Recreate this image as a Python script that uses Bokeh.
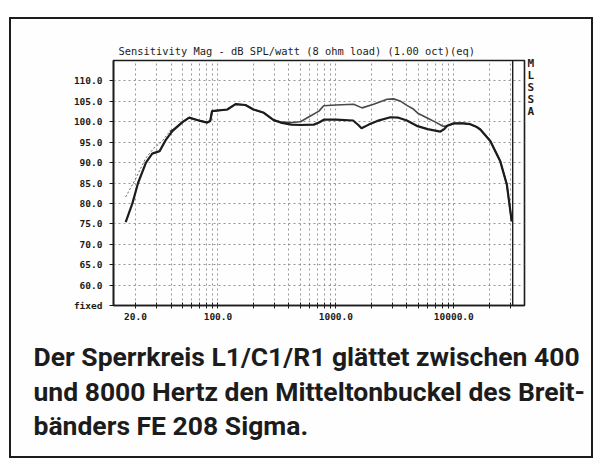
from bokeh.plotting import figure
from bokeh.models import FixedTicker, Range1d, Span, Title, LinearAxis
from bokeh.embed import file_html
from bokeh.resources import INLINE

# ---- data ----
# curve without trap circuit (mid-range hump), thin line
freq_a = [16.5, 20, 24.3, 28.5, 33, 39, 41, 50, 57, 71, 81, 86, 89, 120, 141, 171,
          200, 245, 297, 350, 420, 500, 608, 719, 788, 1000, 1416, 1668, 2090, 2720,
          3080, 3500, 4000, 4500, 5000, 5900, 7000, 8100, 8800, 10000, 12000, 13800,
          15500, 16800, 20400, 24800, 28200, 31000]
spl_a = [81.6, 86.0, 91.0, 93.5, 95.0, 97.6, 97.9, 99.9, 101.0, 100.2, 99.8, 100.2,
         102.6, 103.0, 104.3, 104.1, 103.0, 102.2, 100.4, 99.9, 99.8, 100.0, 101.4,
         102.6, 103.9, 104.1, 104.3, 103.4, 104.3, 105.5, 105.6, 105.1, 104.0, 103.2,
         102.0, 101.0, 99.9, 98.9, 99.0, 99.6, 99.6, 99.4, 98.8, 98.1, 95.3, 90.3,
         84.6, 75.6]
# curve with trap circuit L1/C1/R1, thick line
freq_b = [16.5, 18.8, 21, 24.5, 27.7, 32, 36, 41, 50, 57, 71, 81, 86, 89, 120, 141,
          171, 200, 245, 297, 340, 420, 500, 650, 720, 790, 1000, 1400, 1550, 1650,
          1900, 2250, 2900, 3400, 4000, 4850, 6000, 7700, 8300, 8800, 10000, 12000,
          13800, 15500, 16800, 20400, 24800, 28200, 31000]
spl_b = [75.4, 80.0, 85.0, 90.0, 92.2, 92.8, 95.5, 97.7, 99.9, 101.0, 100.2, 99.8,
         100.2, 102.6, 103.0, 104.3, 104.1, 103.0, 102.2, 100.4, 99.8, 99.3, 99.2,
         99.3, 99.8, 100.5, 100.5, 100.3, 99.2, 98.4, 99.3, 100.2, 101.1, 101.0, 100.3,
         99.0, 98.2, 97.6, 98.2, 99.0, 99.6, 99.6, 99.4, 98.8, 98.1, 95.3, 90.3, 84.6,
         75.6]
low_end_points = 6  # thin curve's first points are drawn dotted

y_ticks = [55, 60, 65, 70, 75, 80, 85, 90, 95, 100, 105, 110]
y_labels = ["fixed", "60.0", "65.0", "70.0", "75.0", "80.0", "85.0", "90.0", "95.0",
            "100.0", "105.0", "110.0"]
x_ticks = [20, 100, 1000, 10000]
x_labels = ["20.0", "100.0", "1000.0", "10000.0"]
x_minor = [30, 40, 50, 60, 70, 80, 90, 200, 300, 400, 500, 600, 700, 800, 900,
           2000, 3000, 4000, 5000, 6000, 7000, 8000, 9000, 20000, 30000]
data_end_hz = 31600

title_text = "Sensitivity Mag - dB SPL/watt (8 ohm load) (1.00 oct)(eq)"
side_letters = ["M", "L", "S", "S", "A"]
side_letter_pos = [114.2, 111.3, 108.4, 105.45, 102.5]  # label slots on right edge
caption_lines = ["Der Sperrkreis L1/C1/R1 glättet zwischen 400",
                 "und 8000 Hertz den Mitteltonbuckel des Breit-",
                 "bänders FE 208 Sigma."]
caption_standoffs = [32, -28, 30]

INK = "#1c1c1c"
GRID = "#8a8a8a"
MONO = "DejaVu Sans Mono"
CAPTION_FONT = "Roboto"

W, H = 584, 441
FL, FR, FT, FB = 102, 513, 41, 286  # frame in canvas pixels

p = figure(width=W, height=H, x_axis_type="log",
           x_range=Range1d(13, 39800), y_range=Range1d(55, 115),
           output_backend="svg", toolbar_location=None,
           min_border_left=FL, min_border_right=W - FR,
           min_border_top=FT, min_border_bottom=H - FB)
p.styles = {"border": "2px solid #1c1c1c", "margin-left": "9px", "margin-top": "17px"}
p.background_fill_color = "#fefefe"
p.border_fill_color = "#fefefe"
p.outline_line_color = INK
p.outline_line_width = 1.6

# title
p.title.text = title_text
p.title.align = "left"
p.title.offset = 5
p.title.standoff = 7
p.title.text_font = MONO
p.title.text_font_style = "normal"
p.title.text_font_size = "10.4px"
p.title.text_color = INK

# axes
p.xaxis.ticker = FixedTicker(ticks=x_ticks, minor_ticks=x_minor)
p.xaxis.major_label_overrides = dict(zip(x_ticks, x_labels))
p.yaxis.ticker = FixedTicker(ticks=y_ticks, minor_ticks=[])
p.yaxis.major_label_overrides = dict(zip(y_ticks, y_labels))
for ax in (p.xaxis, p.yaxis):
    ax.axis_line_color = INK
    ax.axis_line_width = 1.6
    ax.major_tick_line_color = INK
    ax.minor_tick_line_color = INK
    ax.major_label_text_font = MONO
    ax.major_label_text_font_style = "bold"
    ax.major_label_text_font_size = "9.5px"
    ax.major_label_text_color = INK
p.yaxis.major_tick_out = 4
p.yaxis.major_tick_in = 0
p.yaxis.major_label_standoff = 7
p.xaxis.major_tick_in = 3
p.xaxis.major_tick_out = 3
p.xaxis.minor_tick_in = 3
p.xaxis.minor_tick_out = 3
p.xaxis.major_label_standoff = 4

# MLSSA letters as a right-hand axis
side = LinearAxis(ticker=FixedTicker(ticks=side_letter_pos, minor_ticks=[]),
                  major_label_overrides=dict(zip(side_letter_pos, side_letters)),
                  axis_line_color=None, major_tick_line_color=None,
                  minor_tick_line_color=None, major_tick_out=0, major_tick_in=0,
                  major_label_standoff=3,
                  major_label_text_font=MONO, major_label_text_font_style="bold",
                  major_label_text_font_size="11px", major_label_text_color=INK)
p.add_layout(side, "right")

# grid
for g in (p.xgrid, p.ygrid):
    g.grid_line_color = GRID
    g.grid_line_dash = "2 3"
    g.grid_line_width = 0.9
p.xgrid.minor_grid_line_color = GRID
p.xgrid.minor_grid_line_dash = "2 3"
p.xgrid.minor_grid_line_width = 0.9

# curves
p.line(freq_a[:low_end_points], spl_a[:low_end_points], line_color="#666666",
       line_width=1.0, line_dash="2 2")
p.line(freq_a[low_end_points - 1:], spl_a[low_end_points - 1:], line_color="#4a4a4a",
       line_width=1.6)
p.line(freq_b, spl_b, line_color=INK, line_width=2.2)

p.add_layout(Span(location=data_end_hz, dimension="height", line_color=INK,
                  line_width=1.4))

# caption as titles below the plot
for line, sto in zip(caption_lines, caption_standoffs):
    t = Title(text=line, align="left", offset=-80, standoff=sto,
              text_font=CAPTION_FONT, text_font_style="bold", text_font_size="26.5px",
              text_color=INK)
    p.add_layout(t, "below")

open("out.html", "w").write(file_html(p, INLINE))
